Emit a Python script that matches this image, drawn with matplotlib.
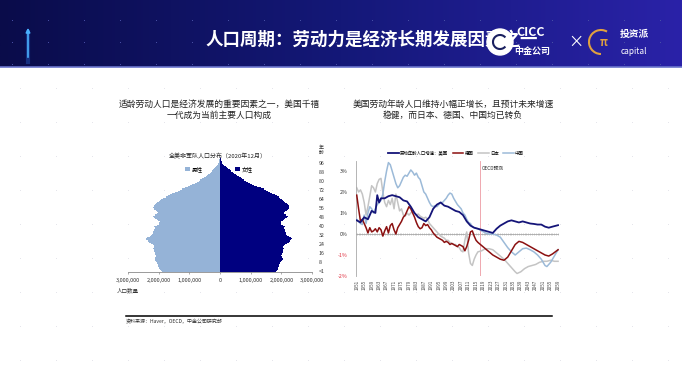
import matplotlib.pyplot as plt
import numpy as np
from matplotlib.colors import LinearSegmentedColormap
from matplotlib.patches import Circle, Arc

plt.rcParams['font.family'] = ['Noto Sans CJK SC', 'DejaVu Sans']
plt.rcParams['axes.unicode_minus'] = False

# ---- pyramid data (millions, single year of age 0..100)
ages = list(range(0, 101))
male = [1.90, 1.93, 1.96, 1.99, 2.01, 2.02, 2.03, 2.04, 2.06, 2.08,
        2.11, 2.13, 2.12, 2.10, 2.09, 2.11, 2.12, 2.13, 2.14, 2.16,
        2.17, 2.15, 2.14, 2.15, 2.19, 2.24, 2.30, 2.36, 2.40, 2.42,
        2.37, 2.29, 2.24, 2.21, 2.19, 2.18, 2.16, 2.15, 2.13, 2.12,
        2.14, 2.07, 2.00, 1.98, 1.97, 2.02, 2.06, 2.11, 2.16, 2.20,
        2.12, 2.04, 2.02, 2.05, 2.09, 2.14, 2.16, 2.17, 2.16, 2.13,
        2.08, 2.04, 2.00, 1.97, 1.93, 1.85, 1.77, 1.70, 1.63, 1.55,
        1.47, 1.38, 1.30, 1.24, 1.15, 1.05, 0.98, 0.90, 0.82, 0.76,
        0.70, 0.64, 0.58, 0.52, 0.47, 0.42, 0.38, 0.34, 0.30, 0.26,
        0.22, 0.18, 0.15, 0.12, 0.09, 0.07, 0.05, 0.04, 0.03, 0.02,
        0.01]
female = [1.82, 1.85, 1.88, 1.90, 1.92, 1.93, 1.94, 1.95, 1.97, 1.99,
          2.02, 2.04, 2.03, 2.01, 2.00, 2.02, 2.03, 2.04, 2.05, 2.07,
          2.08, 2.07, 2.06, 2.08, 2.12, 2.18, 2.24, 2.29, 2.33, 2.35,
          2.31, 2.24, 2.19, 2.16, 2.14, 2.13, 2.12, 2.11, 2.10, 2.09,
          2.12, 2.06, 1.99, 1.98, 1.98, 2.04, 2.08, 2.13, 2.18, 2.22,
          2.16, 2.09, 2.08, 2.12, 2.17, 2.22, 2.24, 2.25, 2.24, 2.22,
          2.17, 2.13, 2.10, 2.07, 2.03, 1.97, 1.91, 1.85, 1.79, 1.71,
          1.64, 1.57, 1.50, 1.43, 1.33, 1.20, 1.12, 1.04, 0.97, 0.91,
          0.85, 0.79, 0.73, 0.67, 0.62, 0.57, 0.52, 0.47, 0.42, 0.37,
          0.32, 0.27, 0.22, 0.18, 0.14, 0.11, 0.08, 0.06, 0.04, 0.03,
          0.02]
pyr_ticks = list(range(0, 97, 8))
pyr_labels = ['<1'] + [str(a) for a in pyr_ticks[1:]]
pop_ticks = [-3e6, -2e6, -1e6, 0, 1e6, 2e6, 3e6]
pop_labels = ['3,000,000', '2,000,000', '1,000,000', '0', '1,000,000', '2,000,000', '3,000,000']

# ---- working-age population growth (%)
us_years = [1951, 1953, 1955, 1957, 1959, 1961, 1962, 1963, 1964, 1966, 1968, 1970, 1972, 1974,
            1976, 1978, 1980, 1982, 1984, 1986, 1988, 1990, 1992, 1994, 1996, 1998, 2000, 2002,
            2004, 2006, 2008, 2010, 2012, 2014, 2016, 2018, 2020, 2022, 2024, 2026, 2028, 2030,
            2032, 2034, 2036, 2038, 2040, 2042, 2044, 2046, 2048, 2050, 2052, 2054, 2056, 2059]
us_vals = [0.65, 0.55, 0.8, 0.7, 1.1, 1.0, 1.85, 1.5, 1.7, 1.7, 1.8, 1.85, 1.8, 1.75,
           1.6, 1.55, 1.3, 1.0, 0.8, 0.7, 0.6, 0.8, 1.2, 1.4, 1.5, 1.35, 1.3, 1.2,
           1.1, 1.05, 0.9, 0.6, 0.4, 0.3, 0.25, 0.2, 0.15, 0.1, 0.05, 0.25, 0.4, 0.5,
           0.6, 0.65, 0.6, 0.55, 0.6, 0.55, 0.5, 0.48, 0.45, 0.45, 0.35, 0.3, 0.35, 0.42]

de_years = list(range(1951, 2017)) + [2018, 2020, 2022, 2024, 2026, 2028, 2030, 2032, 2034,
                                       2036, 2038, 2040, 2042, 2044, 2046, 2048, 2050, 2052,
                                       2054, 2056, 2059]
de_vals = [1.85, 1.2, 0.6, 0.7, 0.5, 0.3, 0.05, 0.3, 0.1, 0.15,
           0.25, 0.1, 0.3, 0.2, -0.1, 0.15, 0.35, 0.05, 0.4, 0.5,
           0.2, 0.0, 0.3, 0.45, 0.6, 0.8, 0.9, 1.1, 1.3, 1.2,
           1.0, 0.8, 0.55, 0.35, 0.25, 0.3, 0.5, 0.4, 0.45, 0.3,
           0.2, 0.05, -0.05, -0.15, -0.2, -0.25, -0.3, -0.4, -0.35, -0.4,
           -0.5, -0.45, -0.5, -0.55, -0.6, -0.5, -0.55, -0.6, -0.8, -0.6,
           -0.3, 0.1, 0.15, -0.1, -0.3, -0.4,
           -0.55, -0.7, -0.85, -1.0, -1.1, -1.2, -1.25, -1.1, -0.8,
           -0.5, -0.35, -0.4, -0.5, -0.6, -0.7, -0.8, -0.9, -1.0,
           -1.05, -0.95, -0.75]

jp_years = list(range(1951, 2017)) + [2018, 2020, 2022, 2024, 2026, 2028, 2030, 2032, 2034,
                                       2036, 2037, 2039, 2041, 2043, 2045, 2047, 2049, 2051,
                                       2053, 2055, 2057, 2059]
jp_vals = [2.2, 2.0, 2.1, 1.9, 1.5, 0.9, 1.3, 1.8, 2.3, 2.2,
           2.0, 2.4, 2.6, 2.65, 2.0, 1.5, 1.3, 1.6, 1.4, 1.7,
           1.2, 1.9, 1.5, 1.1, 1.2, 0.9, 0.85, 1.0, 0.9, 1.0,
           1.1, 1.0, 0.9, 0.95, 0.85, 0.8, 0.75, 0.8, 0.7, 0.5,
           0.4, 0.3, 0.2, 0.1, 0.0, -0.1, -0.15, -0.2, -0.3, -0.3,
           -0.4, -0.45, -0.5, -0.5, -0.6, -0.65, -0.8, -0.85, -0.3, 0.1,
           -0.9, -1.4, -1.5, -1.2, -1.0, -0.85,
           -0.8, -0.7, -0.7, -0.75, -0.9, -1.05, -1.2, -1.4, -1.6,
           -1.8, -1.88, -1.8, -1.65, -1.55, -1.5, -1.45, -1.35, -1.3,
           -1.3, -1.25, -1.3, -1.3]

cn_years = list(range(1951, 2015)) + [2016, 2018, 2020, 2022, 2024, 2026, 2028, 2030, 2032,
                                       2034, 2036, 2038, 2040, 2042, 2044, 2046, 2048, 2050,
                                       2052, 2053, 2055, 2057, 2059]
cn_vals = [0.7, 0.6, 0.5, 0.45, 0.9, 0.5, 1.0, 1.3, 1.2, 1.0,
           1.2, 1.4, 1.5, 1.6, 1.9, 2.5, 3.0, 3.4, 3.3, 3.0,
           2.7, 2.4, 2.2, 2.3, 2.5, 2.7, 2.8, 2.75, 2.9, 3.05,
           2.95, 2.8, 2.9, 2.7, 2.6, 2.3, 2.0, 1.9, 1.7, 1.5,
           1.35, 1.3, 1.35, 1.3, 1.4, 1.5, 1.5, 1.6, 1.7, 1.85,
           1.95, 1.9, 1.7, 1.55, 1.4, 1.3, 1.2, 1.0, 0.9, 0.7,
           0.55, 0.5, 0.35, 0.3,
           0.25, 0.15, 0.05, 0.0, 0.0, -0.05, -0.15, -0.4, -0.65,
           -0.85, -1.0, -0.85, -0.7, -0.67, -0.75, -0.85, -1.0, -1.2,
           -1.5, -1.55, -1.35, -1.05, -0.75]

year_ticks = list(range(1951, 2060, 4))
pct_ticks = [-2, -1, 0, 1, 2, 3]
forecast_year = 2017

# ---- figure and slide background
fig = plt.figure(figsize=(6.82, 3.9), dpi=100)
bg = fig.add_axes([0, 0, 1, 1])
bg.axis('off')

gx, gy = np.meshgrid(np.arange(20, 682, 36), np.arange(88, 390, 34))
bg.scatter(gx.ravel(), gy.ravel(), s=0.5, color='#e4e4ea', linewidths=0, zorder=0)

hdr = LinearSegmentedColormap.from_list('hdr', ['#0a0c4a', '#141878', '#2a22a8'])
bg.imshow(np.linspace(0, 1, 256).reshape(1, -1), extent=[0, 682, 67, 0], cmap=hdr,
          aspect='auto', zorder=1)
hx, hy = np.meshgrid(np.arange(12, 682, 36), np.arange(20, 66, 22))
bg.scatter(hx.ravel(), hy.ravel(), s=0.5, color='#4a52a8', linewidths=0, zorder=2)
bg.plot([0, 682], [67, 67], color='#6a74cc', lw=1.2, zorder=2)
bg.set_xlim(0, 682)
bg.set_ylim(390, 0)

# arrow
bg.plot([28, 28], [32, 62], color='#2a6ee0', lw=3, alpha=0.35, zorder=3)
bg.annotate('', xy=(28, 25), xytext=(28, 60),
            arrowprops=dict(arrowstyle='-|>', color='#4ab0ff', lw=1.2, mutation_scale=6), zorder=4)

bg.text(205, 40, '人口周期：劳动力是经济长期发展因素之一', color='white', fontsize=12.6,
        fontweight='bold', va='center', ha='left', zorder=4)

# logos (drawn over the end of the title, as on the slide)
bg.add_patch(Circle((500, 42), 13, color='white', zorder=5))
bg.add_patch(Arc((500, 42), 14, 14, theta1=40, theta2=320, color='#1a2060', lw=1.5, zorder=6))
bg.text(531, 33, 'CICC', color='white', fontsize=9, fontweight='bold', va='center', ha='center', zorder=5)
bg.text(532, 51, '中金公司', color='white', fontsize=6.5, fontweight='bold', va='center', ha='center', zorder=5)
bg.text(576, 42, '×', color='white', fontsize=11, va='center', ha='center', zorder=5)
bg.add_patch(Arc((601, 42), 24, 24, theta1=90, theta2=300, color='#e0a040', lw=1.5, zorder=5))
bg.text(604, 43, 'π', color='#e0a040', fontsize=8, fontweight='bold', va='center', ha='center', zorder=5)
bg.text(634, 34, '投资派', color='white', fontsize=7, fontweight='bold', va='center', ha='center', zorder=5)
bg.text(634, 51, 'capital', color='white', fontsize=6, va='center', ha='center', zorder=5)

# subtitles
bg.text(219, 110, '适龄劳动人口是经济发展的重要因素之一，美国千禧\n一代成为当前主要人口构成',
        ha='center', va='center', fontsize=6.3, linespacing=1.35, color='#222222')
bg.text(453, 110, '美国劳动年龄人口维持小幅正增长，且预计未来增速\n稳健，而日本、德国、中国均已转负',
        ha='center', va='center', fontsize=6.3, linespacing=1.35, color='#222222')

# source line
bg.plot([126, 552], [315.7, 315.7], color='black', lw=1.1)
bg.text(126, 322, '资料来源：Haver，OECD，中金公司研究部', fontsize=3.6, va='center', color='#333333')

# ---- population pyramid
ax1 = fig.add_axes([128 / 682, 1 - 272 / 390, 184 / 682, 114 / 390])
ax1.patch.set_alpha(0)
mb = ax1.barh(ages, [-v * 1e6 for v in male], height=1.0, color='#95b3d7', linewidth=0, label='男性')
fb = ax1.barh(ages, [v * 1e6 for v in female], height=1.0, color='#000080', linewidth=0, label='女性')
ax1.set_xlim(-3e6, 3e6)
ax1.set_ylim(-0.5, 100.5)
for s in ['top', 'left', 'right']:
    ax1.spines[s].set_visible(False)
ax1.spines['bottom'].set_color('#8a8a8a')
ax1.spines['bottom'].set_linewidth(0.6)
ax1.set_xticks(pop_ticks, pop_labels)
ax1.tick_params(axis='x', labelsize=4, length=1.5, width=0.5, color='#8a8a8a', pad=3, labelcolor='#333333')
ax1.yaxis.tick_right()
ax1.set_yticks(pyr_ticks, pyr_labels)
ax1.tick_params(axis='y', labelsize=3.8, length=0, pad=5, labelcolor='#333333')
ax1.legend(handles=[mb, fb], ncol=2, fontsize=4, frameon=False, loc='center',
           bbox_to_anchor=(219 / 682, 1 - 169 / 390), bbox_transform=fig.transFigure,
           handlelength=0.8, handleheight=0.8, handletextpad=0.4, columnspacing=5.8)
bg.text(218, 156, '全美非军队人口分布（2020年12月）', fontsize=4.3, ha='center', va='center', color='#222222')
bg.text(321, 150, '年\n龄', fontsize=3.6, ha='center', va='center', linespacing=0.95, color='#333333')
bg.text(128, 290, '人口数量', fontsize=4, ha='center', va='center', color='#333333')

# ---- working-age growth lines
ax2 = fig.add_axes([356 / 682, 1 - 276 / 390, 203 / 682, 115.5 / 390])
ax2.patch.set_alpha(0)
l_us, = ax2.plot(us_years, us_vals, color='#141478', lw=1.3, label='劳动年龄人口增速：美国', zorder=5)
l_de, = ax2.plot(de_years, de_vals, color='#8b1010', lw=1.1, label='德国', zorder=4)
l_jp, = ax2.plot(jp_years, jp_vals, color='#c4c4c4', lw=1.1, label='日本', zorder=2)
l_cn, = ax2.plot(cn_years, cn_vals, color='#9cbad8', lw=1.1, label='中国', zorder=3)
ax2.set_xlim(1950.6, 2059.5)
ax2.set_ylim(-2, 3.5)
ax2.axhline(0, color='#a8a8a8', lw=0.6, zorder=1)
ax2.vlines(range(1951, 2060), -0.04, 0.04, color='#a8a8a8', lw=0.4, zorder=1)
ax2.axvline(forecast_year, color='#ec9aa2', lw=0.6, zorder=1)
ax2.text(forecast_year + 0.8, 3.13, 'OECD预测', fontsize=3.4, va='center', color='#333333')
for s in ['top', 'right', 'bottom']:
    ax2.spines[s].set_visible(False)
ax2.spines['left'].set_color('#a8a8a8')
ax2.spines['left'].set_linewidth(0.6)
ax2.set_yticks(pct_ticks, [f'{v}%' for v in pct_ticks])
ax2.tick_params(axis='y', labelsize=3.8, length=0, pad=6)
for t, v in zip(ax2.get_yticklabels(), pct_ticks):
    t.set_color('#e03040' if v < 0 else '#333333')
ax2.set_xticks(year_ticks, [str(y) for y in year_ticks])
ax2.tick_params(axis='x', labelsize=3.3, length=0, pad=2.5, rotation=90, labelcolor='#444444')
ax2.legend(handles=[l_us, l_de, l_jp, l_cn], ncol=4, fontsize=3.2, frameon=False, loc='center',
           bbox_to_anchor=(456 / 682, 1 - 153 / 390), bbox_transform=fig.transFigure,
           handlelength=2.4, handletextpad=0.3, columnspacing=1.0)

fig.savefig('out.png', dpi=100)
